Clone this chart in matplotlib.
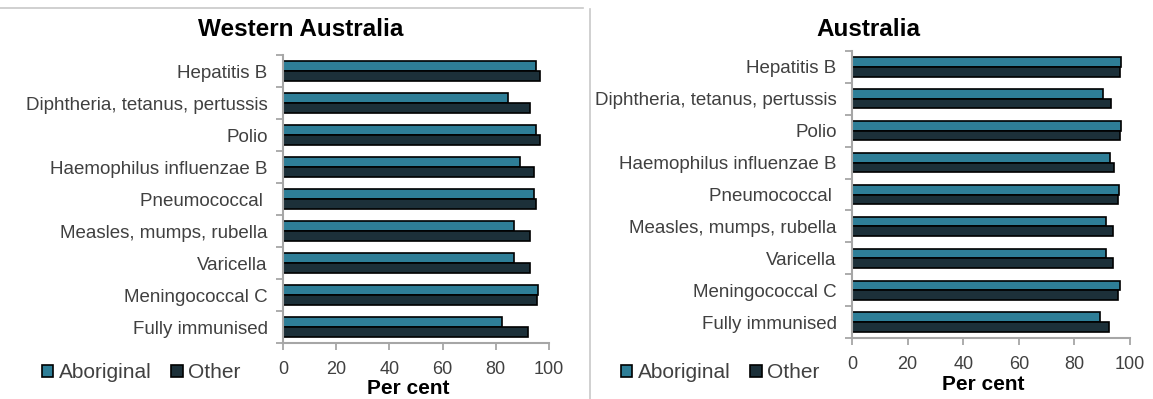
import matplotlib
matplotlib.use("Agg")
import matplotlib.pyplot as plt
from matplotlib.lines import Line2D

plt.rcParams["font.family"] = ["Liberation Sans", "DejaVu Sans"]

vaccines = [
    "Hepatitis B",
    "Diphtheria, tetanus, pertussis",
    "Polio",
    "Haemophilus influenzae B",
    "Pneumococcal ",
    "Measles, mumps, rubella",
    "Varicella",
    "Meningococcal C",
    "Fully immunised",
]

wa_aboriginal = [95.2, 84.7, 95.2, 89.1, 94.5, 86.9, 86.9, 95.9, 82.2]
wa_other = [96.5, 93.0, 96.5, 94.2, 95.0, 93.0, 93.0, 95.5, 92.2]

aus_aboriginal = [96.9, 90.4, 96.9, 92.8, 96.0, 91.5, 91.5, 96.5, 89.2]
aus_other = [96.5, 93.3, 96.5, 94.3, 95.7, 94.0, 94.0, 95.7, 92.6]

x_ticks = [0, 20, 40, 60, 80, 100]
series_names = ["Aboriginal", "Other"]
col_abor = "#2e7e97"
col_other = "#1c3039"
spine_col = "#a6a6a6"
text_col = "#404040"

W, H = 1153, 399
fig = plt.figure(figsize=(W / 100, H / 100), dpi=100)


def px_box(x0, x1, y0, y1):
    return [x0 / W, 1 - y1 / H, (x1 - x0) / W, (y1 - y0) / H]


def panel(rect, abor, other, title, title_xy, xlabel_xy, legend_x):
    x0, x1, y0, y1 = rect
    ax = fig.add_axes(px_box(x0, x1, y0, y1))
    pos = list(range(len(vaccines)))
    bh = 0.3
    b1 = ax.barh([p - bh / 2 for p in pos], abor, height=bh, color=col_abor,
                 edgecolor="black", linewidth=1.2, label=series_names[0])
    b2 = ax.barh([p + bh / 2 for p in pos], other, height=bh, color=col_other,
                 edgecolor="black", linewidth=1.2, label=series_names[1])
    ax.set_ylim(len(vaccines) - 0.5, -0.5)
    ax.set_xlim(0, 100)
    ax.set_xticks(x_ticks)
    # category separators as major ticks, labels on the minor ticks
    ax.set_yticks([p + 0.5 for p in pos[:-1]] + [-0.5, len(vaccines) - 0.5])
    ax.set_yticklabels([])
    ax.set_yticks(pos, minor=True)
    ax.set_yticklabels(vaccines, minor=True)
    ax.tick_params(axis="y", which="major", length=5, width=1.3, color=spine_col, direction="out")
    ax.tick_params(axis="y", which="minor", length=0, pad=11, labelsize=13.5, labelcolor=text_col)
    ax.tick_params(axis="x", length=5, width=1.3, color=spine_col, direction="out",
                   pad=8, labelsize=13, labelcolor=text_col)
    for s in ["top", "right"]:
        ax.spines[s].set_visible(False)
    for s in ["left", "bottom"]:
        ax.spines[s].set_color(spine_col)
        ax.spines[s].set_linewidth(1.5)
    ax.set_xlabel("Per cent", fontsize=15, fontweight="bold", color="black", va="center")
    lx, ly = xlabel_xy
    ax.xaxis.set_label_coords((lx - x0) / (x1 - x0), -(ly - y1) / (y1 - y0))
    fig.text(title_xy[0] / W, 1 - title_xy[1] / H, title, fontsize=17.5, fontweight="bold",
             ha="center", va="center", color="black")
    fig.legend(handles=[b1, b2], loc="center left",
               bbox_to_anchor=(legend_x / W, 1 - 373 / H), ncol=2, frameon=False,
               fontsize=15, handlelength=0.55, handleheight=0.55, handletextpad=0.25,
               columnspacing=0.95, borderaxespad=0, borderpad=0, labelcolor=text_col)
    return ax


panel((283, 549, 55, 343), wa_aboriginal, wa_other, "Western Australia",
      (301, 29), (408, 389), 42)
panel((852, 1130, 51, 338), aus_aboriginal, aus_other, "Australia",
      (868, 30), (983, 385), 621)

# frame lines between the two panels
fig.add_artist(Line2D([0, 583 / W], [1 - 8 / H, 1 - 8 / H], color="#c8c8c8", lw=1.2))
fig.add_artist(Line2D([590 / W, 590 / W], [1 - 9 / H, 0], color="#c8c8c8", lw=1.2))

fig.savefig("out.png", dpi=100)
